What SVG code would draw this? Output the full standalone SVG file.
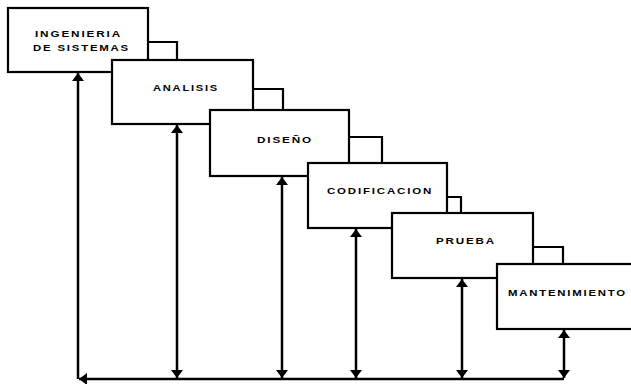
<svg xmlns="http://www.w3.org/2000/svg" width="631" height="384" viewBox="0 0 631 384">
<style>
.box{fill:#fff;stroke:#000;stroke-width:2.2}
.lbl{font-family:"Liberation Sans",Arial,sans-serif;font-weight:bold;font-size:9.5px;letter-spacing:1.5px;fill:#000}
.ln{fill:none;stroke:#000;stroke-width:2.2}
.ar{fill:none;stroke:#000;stroke-width:2.5}
</style>
<defs>
<marker id="ah" markerUnits="userSpaceOnUse" markerWidth="9" markerHeight="12" refX="8" refY="6" orient="auto-start-reverse">
<path d="M0,0 L8,6 L0,12 Z" fill="#000"/>
</marker>
</defs>
<rect width="631" height="384" fill="#fff"/>
<g id="ingenieria">
<rect class="box" x="8" y="8" width="140" height="64"/>
<text class="lbl" x="35" y="37" textLength="87" lengthAdjust="spacingAndGlyphs">INGENIERIA</text>
<text class="lbl" x="33" y="51" textLength="97" lengthAdjust="spacingAndGlyphs">DE SISTEMAS</text>
</g>
<g id="analisis">
<rect class="box" x="112" y="60" width="141" height="64"/>
<text class="lbl" x="153" y="91" textLength="66" lengthAdjust="spacingAndGlyphs">ANALISIS</text>
</g>
<g id="diseno">
<rect class="box" x="210" y="110" width="139" height="66"/>
<text class="lbl" x="257" y="143" textLength="56" lengthAdjust="spacingAndGlyphs">DISEÑO</text>
</g>
<g id="codificacion">
<rect class="box" x="308" y="163" width="139" height="65"/>
<text class="lbl" x="327" y="194" textLength="106" lengthAdjust="spacingAndGlyphs">CODIFICACION</text>
</g>
<g id="prueba">
<rect class="box" x="392" y="213" width="141" height="65"/>
<text class="lbl" x="436" y="244" textLength="60" lengthAdjust="spacingAndGlyphs">PRUEBA</text>
</g>
<g id="mantenimiento">
<rect class="box" x="497" y="264" width="145" height="65"/>
<text class="lbl" x="508" y="296" textLength="119" lengthAdjust="spacingAndGlyphs">MANTENIMIENTO</text>
</g>
<g id="connectors">
<path class="ln" d="M148,42 H177 V60"/>
<path class="ln" d="M253,89 H283 V110"/>
<path class="ln" d="M349,137 H382 V163"/>
<path class="ln" d="M447,197 H461 V213"/>
<path class="ln" d="M533,247 H563 V264"/>
<path class="ar" d="M78,379 V73" marker-end="url(#ah)"/>
<path class="ar" d="M564,379 H79" marker-end="url(#ah)"/>
<path class="ar" d="M177,125 V378" marker-start="url(#ah)" marker-end="url(#ah)"/>
<path class="ar" d="M282,177 V378" marker-start="url(#ah)" marker-end="url(#ah)"/>
<path class="ar" d="M356,229 V378" marker-start="url(#ah)" marker-end="url(#ah)"/>
<path class="ar" d="M462,279 V378" marker-start="url(#ah)" marker-end="url(#ah)"/>
<path class="ar" d="M564,330 V378" marker-start="url(#ah)" marker-end="url(#ah)"/>
</g>
</svg>
